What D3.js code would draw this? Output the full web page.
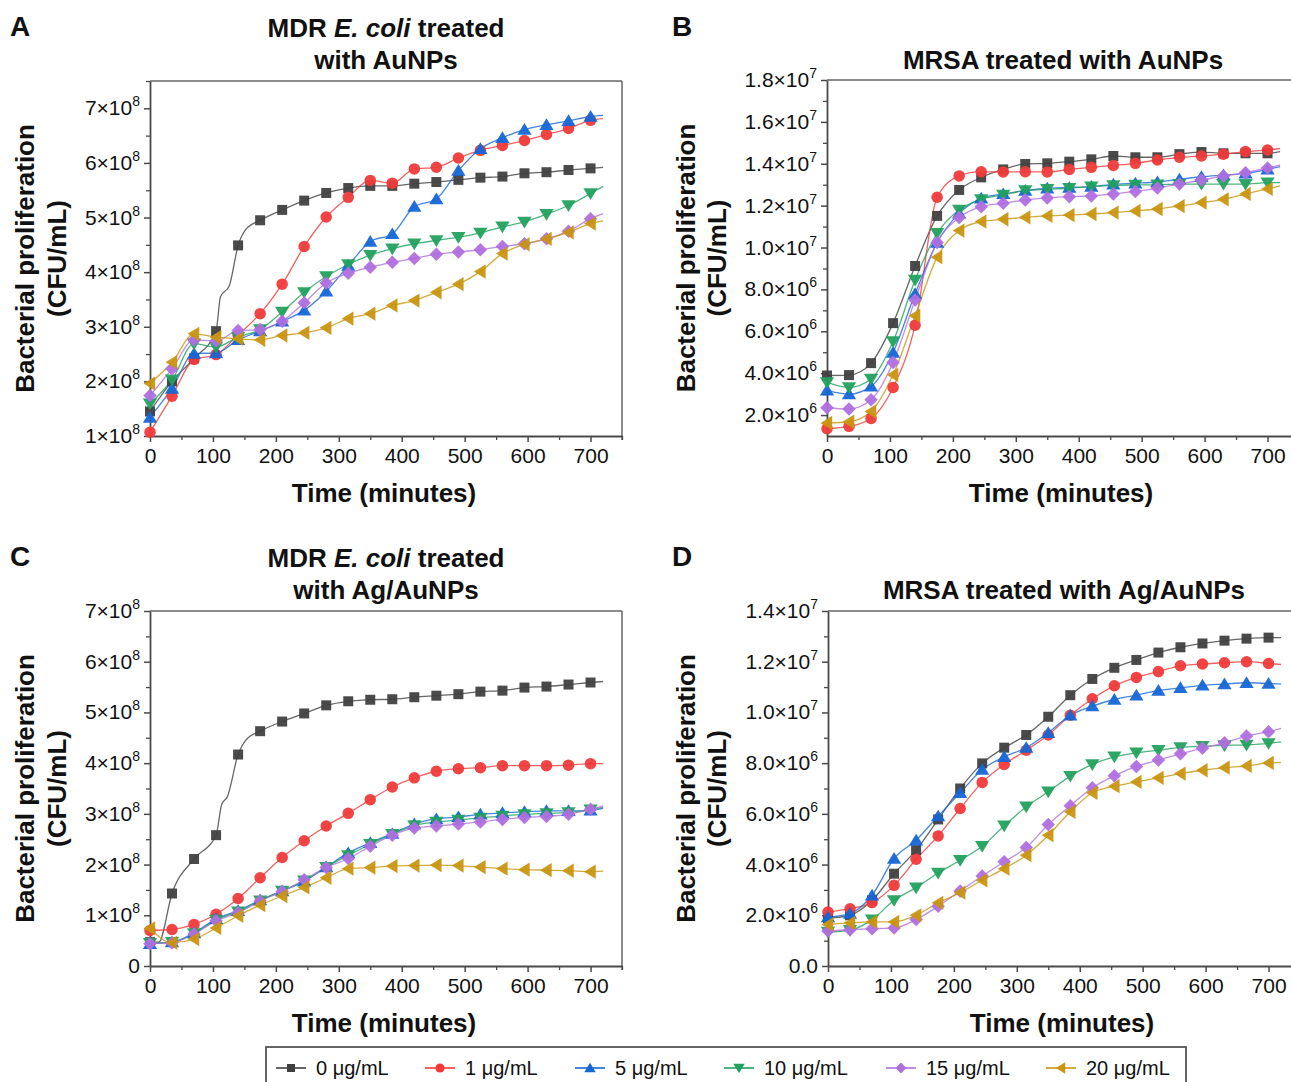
<!DOCTYPE html>
<html><head><meta charset="utf-8">
<script src="https://cdn.jsdelivr.net/npm/d3@7"></script>
<style>
body{margin:0;background:#fff;}
svg{display:block;font-family:"Liberation Sans",Arial,sans-serif;}
</style></head>
<body>
<svg id="chart" width="1291" height="1082"></svg>
<script>
// ---------- DATA ----------
const times = [0,35,70,105,140,175,210,245,280,315,350,385,420,455,490,525,560,595,630,665,700,720];
const seriesNames = ["0 μg/mL","1 μg/mL","5 μg/mL","10 μg/mL","15 μg/mL","20 μg/mL"];
const seriesColors = ["#404040","#f03a3a","#1666d6","#22a15e","#b06fdf","#c99510"];
const seriesShapes = ["square","circle","triUp","triDown","diamond","triLeft"];

// Panel A: MDR E. coli + AuNPs (x1e8 CFU/mL)
const a0  = [1.45,2.00,2.42,2.92,4.49,4.95,5.14,5.31,5.45,5.54,5.58,5.58,5.62,5.65,5.69,5.73,5.75,5.81,5.83,5.87,5.90,5.92];
const a1  = [1.07,1.73,2.40,2.49,2.85,3.24,3.78,4.47,5.01,5.37,5.68,5.63,5.89,5.92,6.09,6.23,6.32,6.41,6.52,6.63,6.78,6.81];
const a5  = [1.34,1.87,2.51,2.52,2.76,2.92,3.10,3.30,3.65,4.12,4.56,4.70,5.20,5.34,5.86,6.26,6.46,6.61,6.70,6.77,6.85,6.87];
const a10 = [1.59,2.03,2.69,2.63,2.81,2.95,3.27,3.63,3.92,4.14,4.31,4.43,4.52,4.58,4.64,4.72,4.83,4.92,5.06,5.22,5.44,5.57];
const a15 = [1.74,2.23,2.76,2.74,2.93,2.95,3.10,3.44,3.80,3.98,4.09,4.18,4.25,4.33,4.37,4.41,4.47,4.52,4.61,4.75,4.98,5.07];
const a20 = [1.96,2.35,2.87,2.81,2.78,2.76,2.84,2.89,2.98,3.15,3.24,3.39,3.48,3.63,3.78,4.01,4.34,4.51,4.61,4.73,4.89,4.94];
const a0Extra = [[112,3.55],[126,3.75],[152,4.78]];

// Panel B: MRSA + AuNPs (x1e6 CFU/mL)
const b0  = [3.89,3.91,4.48,6.39,9.12,11.51,12.75,13.35,13.73,13.99,14.02,14.10,14.21,14.37,14.31,14.31,14.46,14.56,14.50,14.50,14.50,14.58];
const b1  = [1.35,1.46,1.84,3.32,6.29,12.40,13.42,13.62,13.61,13.62,13.61,13.73,13.83,13.92,14.02,14.18,14.31,14.37,14.46,14.58,14.66,14.73];
const b5  = [3.18,3.00,3.37,4.99,7.79,10.24,11.63,12.35,12.56,12.72,12.83,12.87,12.91,13.02,13.07,13.13,13.26,13.38,13.46,13.54,13.73,13.86];
const b10 = [3.56,3.32,3.72,5.51,8.45,10.68,11.79,12.30,12.51,12.72,12.78,12.83,12.91,12.97,12.99,13.00,13.03,13.03,13.03,13.03,13.10,13.10];
const b15 = [2.35,2.29,2.73,4.51,7.50,10.24,11.43,11.95,12.11,12.27,12.37,12.43,12.46,12.56,12.68,12.84,13.03,13.22,13.41,13.57,13.80,13.94];
const b20 = [1.62,1.68,2.17,3.92,6.74,9.54,10.81,11.24,11.35,11.44,11.51,11.55,11.60,11.67,11.75,11.84,11.98,12.14,12.30,12.56,12.80,12.94];

// Panel C: MDR E. coli + Ag/AuNPs (x1e8 CFU/mL)
const c0  = [0.47,1.43,2.11,2.58,4.17,4.63,4.82,4.98,5.14,5.22,5.25,5.26,5.30,5.33,5.36,5.41,5.43,5.49,5.51,5.55,5.59,5.61];
const c1  = [0.70,0.72,0.82,1.02,1.33,1.74,2.14,2.47,2.76,3.01,3.28,3.53,3.71,3.84,3.89,3.91,3.95,3.95,3.95,3.96,3.99,3.99];
const c5  = [0.44,0.47,0.65,0.93,1.09,1.30,1.48,1.67,1.95,2.23,2.43,2.61,2.80,2.90,2.94,2.99,3.02,3.04,3.06,3.06,3.07,3.11];
const c10 = [0.45,0.47,0.64,0.91,1.07,1.29,1.48,1.68,1.95,2.18,2.40,2.60,2.77,2.84,2.88,2.92,2.96,2.99,3.01,3.03,3.08,3.13];
const c15 = [0.44,0.46,0.63,0.89,1.05,1.28,1.47,1.70,1.94,2.12,2.36,2.58,2.72,2.76,2.80,2.84,2.89,2.93,2.95,2.99,3.09,3.16];
const c20 = [0.74,0.46,0.53,0.75,0.99,1.20,1.38,1.55,1.74,1.92,1.94,1.97,1.98,1.99,1.98,1.95,1.92,1.90,1.89,1.88,1.86,1.87];
const c0Extra = [[14,0.47],[114,3.19],[123,3.34],[152,4.45]];

// Panel D: MRSA + Ag/AuNPs (x1e6 CFU/mL)
const d0  = [1.89,2.00,2.59,3.64,4.57,5.78,7.00,7.99,8.61,9.11,9.83,10.68,11.32,11.76,12.07,12.36,12.57,12.72,12.83,12.91,12.95,12.95];
const d1  = [2.13,2.26,2.50,3.18,4.21,5.13,6.21,7.24,7.95,8.51,9.11,9.89,10.54,11.05,11.38,11.61,11.84,11.91,11.96,12.00,11.93,11.89];
const d5  = [1.93,2.07,2.79,4.24,4.96,5.91,6.83,7.75,8.25,8.61,9.20,9.89,10.25,10.51,10.68,10.86,10.97,11.07,11.12,11.17,11.14,11.12];
const d10 = [1.34,1.41,1.83,2.59,3.09,3.67,4.17,4.72,5.53,6.28,6.87,7.49,7.95,8.25,8.41,8.51,8.62,8.67,8.70,8.72,8.78,8.84];
const d15 = [1.38,1.43,1.47,1.50,1.83,2.36,2.96,3.55,4.11,4.67,5.58,6.32,7.03,7.50,7.87,8.12,8.37,8.59,8.80,9.07,9.24,9.37];
const d20 = [1.64,1.70,1.74,1.74,2.00,2.49,2.89,3.38,3.84,4.37,5.16,6.08,6.83,7.09,7.26,7.42,7.59,7.72,7.82,7.89,8.01,8.03];

const xTicks = [0,100,200,300,400,500,600,700];
const xMinorTicks = [50,150,250,350,450,550,650,750];
const yTicksA = [1,2,3,4,5,6,7];
const yTickLabelsA = [["1×10","8"],["2×10","8"],["3×10","8"],["4×10","8"],["5×10","8"],["6×10","8"],["7×10","8"]];
const yMinorA = [1.5,2.5,3.5,4.5,5.5,6.5,7.5];
const yTicksB = [2,4,6,8,10,12,14,16,18];
const yTickLabelsB = [["2.0×10","6"],["4.0×10","6"],["6.0×10","6"],["8.0×10","6"],["1.0×10","7"],["1.2×10","7"],["1.4×10","7"],["1.6×10","7"],["1.8×10","7"]];
const yMinorB = [3,5,7,9,11,13,15,17];
const yTicksC = [0,1,2,3,4,5,6,7];
const yTickLabelsC = [["0",""],["1×10","8"],["2×10","8"],["3×10","8"],["4×10","8"],["5×10","8"],["6×10","8"],["7×10","8"]];
const yMinorC = [0.5,1.5,2.5,3.5,4.5,5.5,6.5];
const yTicksD = [0,2,4,6,8,10,12,14];
const yTickLabelsD = [["0.0",""],["2.0×10","6"],["4.0×10","6"],["6.0×10","6"],["8.0×10","6"],["1.0×10","7"],["1.2×10","7"],["1.4×10","7"]];
const yMinorD = [1,3,5,7,9,11,13];

// ---------- LAYOUT ----------
const svg = d3.select("#chart");
const PW = 472;
const panels = [
  {letter:"A", lx:10, ly:36, left:150, top:81, h:355, dom:[1,7.5], data:[a0,a1,a5,a10,a15,a20], extras:{0:a0Extra},
   ticks:yTicksA, labels:yTickLabelsA, minor:yMinorA,
   title:[[["MDR ",""],["E. coli","i"],[" treated",""]],[["with AuNPs",""]]], tY:[37,69], yt:[25,57], rightBorder:true},
  {letter:"B", lx:672, ly:36, left:827, top:80, h:356, dom:[1,18], data:[b0,b1,b5,b10,b15,b20], extras:{},
   ticks:yTicksB, labels:yTickLabelsB, minor:yMinorB,
   title:[[["MRSA treated with AuNPs",""]]], tY:[69], yt:[686,717], rightBorder:true},
  {letter:"C", lx:10, ly:566, left:150, top:611, h:355, dom:[0,7], data:[c0,c1,c5,c10,c15,c20], extras:{0:c0Extra},
   ticks:yTicksC, labels:yTickLabelsC, minor:yMinorC,
   title:[[["MDR ",""],["E. coli","i"],[" treated",""]],[["with Ag/AuNPs",""]]], tY:[567,599], yt:[25,57], rightBorder:true},
  {letter:"D", lx:672, ly:566, left:828, top:611, h:355, dom:[0,14], data:[d0,d1,d5,d10,d15,d20], extras:{},
   ticks:yTicksD, labels:yTickLabelsD, minor:yMinorD,
   title:[[["MRSA treated with Ag/AuNPs",""]]], tY:[599], yt:[686,717], rightBorder:true}
];

function shapePath(shape, r){
  switch(shape){
    case "square": return `M${-r},${-r}H${r}V${r}H${-r}Z`;
    case "circle": return `M${r*1.15},0A${r*1.15},${r*1.15} 0 1,1 ${-r*1.15},0A${r*1.15},${r*1.15} 0 1,1 ${r*1.15},0Z`;
    case "triUp": { const s=r*1.3; return `M0,${-s}L${s*1.1},${s*0.8}L${-s*1.1},${s*0.8}Z`; }
    case "triDown": { const s=r*1.3; return `M0,${s}L${s*1.1},${-s*0.8}L${-s*1.1},${-s*0.8}Z`; }
    case "diamond": { const s=r*1.35; return `M0,${-s}L${s},0L0,${s}L${-s},0Z`; }
    case "triLeft": { const s=r*1.3; return `M${-s},0L${s*0.8},${-s*1.1}L${s*0.8},${s*1.1}Z`; }
  }
}

const axisColor = "#4a4a4a";

panels.forEach(p => {
  const x = d3.scaleLinear().domain([0,750]).range([p.left, p.left+PW]);
  const y = d3.scaleLinear().domain(p.dom).range([p.top+p.h, p.top]);
  const g = svg.append("g");
  const bottom = p.top + p.h;

  g.append("line").attr("x1",p.left).attr("x2",p.left+PW).attr("y1",p.top).attr("y2",p.top)
    .attr("stroke","#666").attr("stroke-width",1.5);
  if(p.rightBorder) g.append("line").attr("x1",p.left+PW).attr("x2",p.left+PW).attr("y1",p.top).attr("y2",bottom+4)
    .attr("stroke","#666").attr("stroke-width",1.5);

  const xa = g.append("g").attr("transform",`translate(0,${bottom})`)
    .call(d3.axisBottom(x).tickValues(xTicks).tickSize(6).tickSizeOuter(0).tickFormat(d3.format("d")));
  xa.select(".domain").attr("stroke",axisColor).attr("stroke-width",1.8);
  xa.selectAll(".tick line").attr("stroke",axisColor).attr("stroke-width",1.5);
  xa.selectAll(".tick text").attr("font-size",21).attr("fill","#111").attr("y",12).attr("dy","0.71em")
    .attr("font-family","'Liberation Sans',Arial,sans-serif");
  const xm = g.append("g").attr("transform",`translate(0,${bottom})`)
    .call(d3.axisBottom(x).tickValues(xMinorTicks).tickSize(4).tickSizeOuter(0).tickFormat(""));
  xm.select(".domain").remove();
  xm.selectAll(".tick line").attr("stroke",axisColor).attr("stroke-width",1.3);

  const ya = g.append("g").attr("transform",`translate(${p.left},0)`)
    .call(d3.axisLeft(y).tickValues(p.ticks).tickSize(6).tickSizeOuter(0).tickFormat(""));
  ya.select(".domain").attr("stroke",axisColor).attr("stroke-width",1.8);
  ya.selectAll(".tick line").attr("stroke",axisColor).attr("stroke-width",1.5);
  const ym = g.append("g").attr("transform",`translate(${p.left},0)`)
    .call(d3.axisLeft(y).tickValues(p.minor).tickSize(4).tickSizeOuter(0).tickFormat(""));
  ym.select(".domain").remove();
  ym.selectAll(".tick line").attr("stroke",axisColor).attr("stroke-width",1.3);

  p.ticks.forEach((t,i) => {
    const lab = p.labels[i];
    const tx = g.append("text").attr("x",p.left-10).attr("y",y(t)+7).attr("text-anchor","end")
      .attr("font-size",21).attr("fill","#111");
    tx.append("tspan").text(lab[0]);
    if(lab[1]) tx.append("tspan").attr("font-size",14).attr("dy",-9).text(lab[1]);
  });

  g.append("text").attr("x",p.left+PW/2-2).attr("y",bottom+66).attr("text-anchor","middle")
    .attr("font-size",26).attr("font-weight","bold").attr("fill","#111").text("Time (minutes)");

  const yc = p.top + p.h/2;
  [["Bacterial proliferation",p.yt[0]],["(CFU/mL)",p.yt[1]]].forEach(([s,xx]) => {
    g.append("text").attr("transform",`translate(${xx},${yc}) rotate(-90)`).attr("text-anchor","middle")
      .attr("dominant-baseline","central").attr("font-size",26).attr("font-weight","bold").attr("fill","#111").text(s);
  });

  p.title.forEach((line,li) => {
    const tt = g.append("text").attr("x",p.left+PW/2).attr("y",p.tY[li]).attr("text-anchor","middle")
      .attr("font-size",26).attr("font-weight","bold").attr("fill","#111");
    line.forEach(([s,st]) => { const ts = tt.append("tspan").text(s); if(st==="i") ts.attr("font-style","italic"); });
  });

  g.append("text").attr("x",p.lx).attr("y",p.ly).attr("font-size",28).attr("font-weight","bold").attr("fill","#111").text(p.letter);

  const cid = "clip"+p.letter;
  svg.append("clipPath").attr("id",cid).append("rect")
    .attr("x",p.left-8).attr("y",p.top-10).attr("width",PW+10).attr("height",p.h+14);

  const plot = g.append("g").attr("clip-path",`url(#${cid})`);
  const line = d3.line().x(d=>x(d[0])).y(d=>y(d[1])).curve(d3.curveMonotoneX);

  p.data.forEach((vals,si) => {
    let pts = times.map((t,i)=>[t,vals[i]]);
    if(p.extras[si]) pts = pts.concat(p.extras[si]).sort((a,b)=>a[0]-b[0]);
    plot.append("path").attr("d",line(pts)).attr("fill","none")
      .attr("stroke",seriesColors[si]).attr("stroke-width",1.3).attr("stroke-opacity",0.8);
  });
  p.data.forEach((vals,si) => {
    plot.selectAll(null).data(times.map((t,i)=>[t,vals[i]]).filter(d=>d[0]%35===0))
      .enter().append("path")
      .attr("transform",d=>`translate(${x(d[0])},${y(d[1])})`)
      .attr("d",shapePath(seriesShapes[si],5))
      .attr("fill",seriesColors[si]).attr("fill-opacity",0.95);
  });
});

// ---------- LEGEND ----------
const lg = svg.append("g");
lg.append("rect").attr("x",266).attr("y",1047).attr("width",920).attr("height",50)
  .attr("fill","#fff").attr("stroke","#555").attr("stroke-width",1.8);
const legendX = [276,425,575,724,886,1046];
seriesNames.forEach((n,i) => {
  const lx = legendX[i], cy = 1068;
  lg.append("line").attr("x1",lx).attr("x2",lx+30).attr("y1",cy).attr("y2",cy)
    .attr("stroke",seriesColors[i]).attr("stroke-width",2).attr("stroke-opacity",0.8);
  lg.append("path").attr("transform",`translate(${lx+15},${cy})`).attr("d",shapePath(seriesShapes[i],4))
    .attr("fill",seriesColors[i]);
  lg.append("text").attr("x",lx+40).attr("y",cy+7).attr("font-size",20).attr("fill","#111").text(n);
});
</script>
</body></html>
